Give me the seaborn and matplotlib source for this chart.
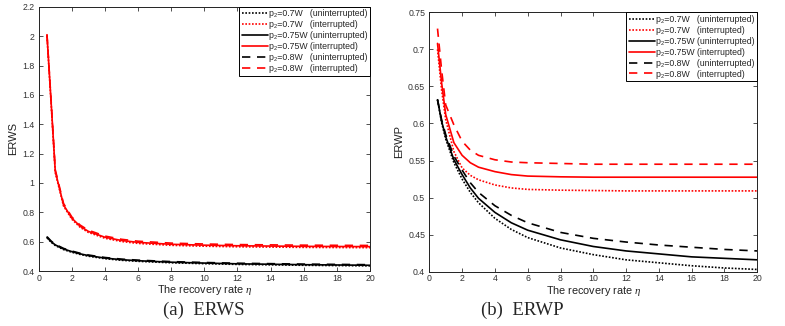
import matplotlib
matplotlib.use("Agg")
import matplotlib.pyplot as plt
import seaborn as sns
import pandas as pd

# ---------------- data ----------------
eta = [0.5, 0.75, 1, 1.5, 2, 2.5, 3, 4, 5, 6, 8, 10, 12, 14, 16, 18, 20]

# (a) ERWS
erws_07_unint = [0.626, 0.596, 0.574, 0.546, 0.528, 0.513, 0.501, 0.484, 0.473, 0.466, 0.456, 0.450, 0.445, 0.442, 0.439, 0.437, 0.435]
erws_07_int   = [2.00, 1.54, 1.07, 0.843, 0.753, 0.698, 0.663, 0.623, 0.601, 0.588, 0.575, 0.569, 0.565, 0.563, 0.561, 0.560, 0.559]
erws_075_unint = [0.630, 0.600, 0.578, 0.550, 0.532, 0.517, 0.505, 0.488, 0.477, 0.470, 0.460, 0.454, 0.449, 0.446, 0.443, 0.441, 0.439]
erws_075_int   = [2.01, 1.55, 1.08, 0.850, 0.760, 0.705, 0.670, 0.630, 0.608, 0.595, 0.582, 0.576, 0.572, 0.570, 0.568, 0.567, 0.566]
erws_08_unint = [0.634, 0.604, 0.582, 0.554, 0.536, 0.521, 0.509, 0.492, 0.481, 0.474, 0.464, 0.458, 0.453, 0.450, 0.447, 0.445, 0.443]
erws_08_int   = [2.01, 1.56, 1.09, 0.860, 0.768, 0.713, 0.678, 0.638, 0.616, 0.603, 0.590, 0.584, 0.580, 0.578, 0.576, 0.575, 0.574]

# (b) ERWP
erwp_07_unint = [0.632, 0.601, 0.579, 0.547, 0.525, 0.507, 0.493, 0.472, 0.457, 0.446, 0.432, 0.423, 0.416, 0.412, 0.408, 0.405, 0.403]
erwp_07_int   = [0.700, 0.645, 0.605, 0.562, 0.540, 0.530, 0.524, 0.517, 0.513, 0.511, 0.510, 0.5095, 0.509, 0.509, 0.509, 0.509, 0.509]
erwp_075_unint = [0.632, 0.603, 0.582, 0.551, 0.531, 0.513, 0.499, 0.480, 0.466, 0.456, 0.443, 0.434, 0.428, 0.424, 0.420, 0.418, 0.416]
erwp_075_int   = [0.708, 0.655, 0.612, 0.574, 0.557, 0.547, 0.541, 0.535, 0.531, 0.529, 0.528, 0.5275, 0.5275, 0.5275, 0.5275, 0.5275, 0.5275]
erwp_08_unint = [0.632, 0.605, 0.585, 0.556, 0.537, 0.520, 0.507, 0.489, 0.476, 0.466, 0.453, 0.445, 0.440, 0.436, 0.433, 0.430, 0.428]
erwp_08_int   = [0.728, 0.672, 0.625, 0.598, 0.576, 0.564, 0.557, 0.551, 0.548, 0.547, 0.546, 0.545, 0.545, 0.545, 0.545, 0.545, 0.545]

labels = ["p\u2082=0.7W   (uninterrupted)", "p\u2082=0.7W   (interrupted)",
          "p\u2082=0.75W (uninterrupted)", "p\u2082=0.75W (interrupted)",
          "p\u2082=0.8W   (uninterrupted)", "p\u2082=0.8W   (interrupted)"]

xticks = [0, 2, 4, 6, 8, 10, 12, 14, 16, 18, 20]
yticks_a = [0.4, 0.6, 0.8, 1.0, 1.2, 1.4, 1.6, 1.8, 2.0, 2.2]
yticklabels_a = ["0.4", "0.6", "0.8", "1", "1.2", "1.4", "1.6", "1.8", "2", "2.2"]
yticks_b = [0.4, 0.45, 0.5, 0.55, 0.6, 0.65, 0.7, 0.75]
yticklabels_b = ["0.4", "0.45", "0.5", "0.55", "0.6", "0.65", "0.7", "0.75"]

# ---------------- style ----------------
sns.set_style("ticks")
plt.rcParams["font.family"] = ["Liberation Sans", "DejaVu Sans"]
plt.rcParams["mathtext.fontset"] = "custom"
plt.rcParams["mathtext.rm"] = "Liberation Sans"
plt.rcParams["mathtext.it"] = "Liberation Serif:italic"
plt.rcParams["xtick.direction"] = "in"
plt.rcParams["ytick.direction"] = "in"

colors = ["black", "red", "black", "red", "black", "red"]
styles = [(0, (1, 1)), (0, (1, 1)), "-", "-", (0, (5, 4)), (0, (5, 4))]

fig = plt.figure(figsize=(7.85, 3.26), dpi=100)
ax_a = fig.add_axes([0.0493, 0.1687, 0.4220, 0.8103])
ax_b = fig.add_axes([0.5469, 0.1666, 0.4178, 0.7957])

series_a = [erws_07_unint, erws_07_int, erws_075_unint, erws_075_int, erws_08_unint, erws_08_int]
series_b = [erwp_07_unint, erwp_07_int, erwp_075_unint, erwp_075_int, erwp_08_unint, erwp_08_int]

def draw(ax, series, yticks, yticklabels, ylim, ylabel):
    for vals, lab, c, ls in zip(series, labels, colors, styles):
        df = pd.DataFrame({"eta": eta, "v": vals})
        sns.lineplot(data=df, x="eta", y="v", ax=ax, color=c, linestyle=ls,
                     linewidth=1.2, label=lab)
    ax.set_xlim(0, 20)
    ax.set_ylim(*ylim)
    ax.set_xticks(xticks)
    ax.set_xticklabels([str(t) for t in xticks])
    ax.set_yticks(yticks)
    ax.set_yticklabels(yticklabels)
    ax.tick_params(axis="both", labelsize=6.3, colors="#333333", length=3,
                   width=0.6, top=True, right=True, pad=3)
    ax.tick_params(axis="x", pad=2)
    for s in ax.spines.values():
        s.set_linewidth(0.7)
        s.set_color("#222222")
    ax.set_xlabel(r"The recovery rate $\eta$", fontsize=7.8, color="#222222", labelpad=0.3)
    ax.set_ylabel(ylabel, fontsize=8, color="#222222", labelpad=3)
    leg = ax.legend(loc="upper right", borderaxespad=0, fancybox=False,
                    edgecolor="black", framealpha=1, fontsize=6.3,
                    handlelength=3.0, labelspacing=0.22, borderpad=0.3,
                    handletextpad=0.1)
    leg.get_frame().set_linewidth(0.7)

draw(ax_a, series_a, yticks_a, yticklabels_a, (0.4, 2.2), "ERWS")
draw(ax_b, series_b, yticks_b, yticklabels_b, (0.4, 0.75), "ERWP")

fig.text(0.259, 0.049, "(a)  ERWS", ha="center", va="center",
         family="Liberation Serif", fontsize=13.5)
fig.text(0.666, 0.049, "(b)  ERWP", ha="center", va="center",
         family="Liberation Serif", fontsize=13.5)

fig.savefig("out.png", dpi=100)
